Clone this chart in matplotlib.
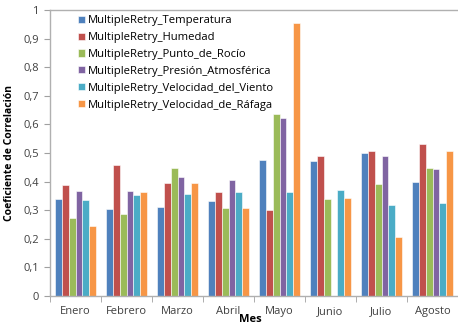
import matplotlib
matplotlib.use('Agg')
import matplotlib.pyplot as plt
import numpy as np

plt.rcParams['font.family'] = ['Open Sans', 'DejaVu Sans']

meses = ['Enero', 'Febrero', 'Marzo', 'Abril', 'Mayo', 'Junio', 'Julio', 'Agosto']

series = [
    'MultipleRetry_Temperatura',
    'MultipleRetry_Humedad',
    'MultipleRetry_Punto_de_Rocío',
    'MultipleRetry_Presión_Atmosférica',
    'MultipleRetry_Velocidad_del_Viento',
    'MultipleRetry_Velocidad_de_Ráfaga',
]

temperatura = [0.338, 0.303, 0.311, 0.333, 0.476, 0.473, 0.499, 0.400]
humedad = [0.388, 0.459, 0.396, 0.364, 0.300, 0.490, 0.507, 0.530]
punto_rocio = [0.273, 0.287, 0.447, 0.307, 0.636, 0.339, 0.390, 0.446]
presion = [0.367, 0.367, 0.415, 0.404, 0.622, 0.0, 0.491, 0.443]
viento = [0.334, 0.354, 0.357, 0.364, 0.365, 0.371, 0.319, 0.324]
rafaga = [0.246, 0.365, 0.394, 0.307, 0.953, 0.342, 0.205, 0.507]

valores = [temperatura, humedad, punto_rocio, presion, viento, rafaga]
colores = ['#4F81BD', '#C0504D', '#9BBB59', '#8064A2', '#4BACC6', '#F79646']

fig = plt.figure(figsize=(4.58, 3.26), dpi=100)
ax = fig.add_axes([50 / 458, 30 / 326, 408 / 458, 286 / 326])

n = len(series)
ancho = 1 / (n + 1.5)
x = np.arange(len(meses))
for i, (nombre, vals, c) in enumerate(zip(series, valores, colores)):
    pos = x + (i - (n - 1) / 2) * ancho
    ax.bar(pos, vals, width=ancho, color=c, edgecolor='white', linewidth=0.4,
           label=nombre, zorder=2)

ax.set_xlim(-0.5, len(meses) - 0.5)
ax.set_ylim(0, 1)
ax.set_yticks(np.arange(0, 1.01, 0.1))
ax.set_yticklabels([('%.1f' % v).replace('.', ',') if v > 0 and v < 1 else '%d' % round(v)
                    for v in np.arange(0, 1.01, 0.1)])
ax.set_xticks(x)
ax.set_xticklabels(meses)
ax.set_xticks(np.arange(-0.5, len(meses), 1), minor=True)
ax.tick_params(axis='x', which='major', length=0, pad=7)
ax.tick_params(axis='x', which='minor', length=4, color='#A0A0A0')
ax.tick_params(axis='y', length=4, color='#A0A0A0', pad=4)
ax.tick_params(labelsize=8, labelcolor='#404040')

for s in ['left', 'bottom', 'top']:
    ax.spines[s].set_color('#B0B0B0')
    ax.spines[s].set_linewidth(1.0)
ax.spines['right'].set_visible(False)

ax.set_ylabel('Coeficiente de Correlación', fontsize=7.5, fontweight='bold', labelpad=6)
ax.set_xlabel('Mes', fontsize=8, fontweight='bold')
ax.xaxis.set_label_coords(0.49, -0.062)

ax.legend(loc='upper left', bbox_to_anchor=(0.052, 1.005), frameon=False, fontsize=8.1,
          handlelength=0.6, handleheight=0.6, handletextpad=0.3, labelspacing=0.52,
          borderaxespad=0.2)

fig.savefig('out.png', dpi=100)
